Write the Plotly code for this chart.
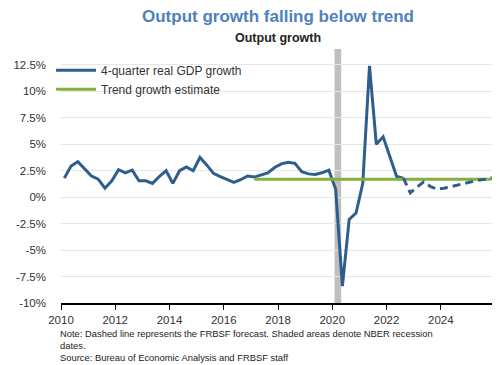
import pandas as pd
import plotly.graph_objects as go

# ---- data ----
actual_quarters = pd.period_range("2010Q1", "2022Q3", freq="Q")
gdp_growth = [
    1.8, 2.95, 3.35, 2.7,
    2.0, 1.7, 0.85, 1.55,
    2.6, 2.3, 2.55, 1.55,
    1.55, 1.3, 1.95, 2.5,
    1.3, 2.5, 2.85, 2.5,
    3.75, 3.05, 2.25, 1.95,
    1.7, 1.4, 1.65, 2.0,
    1.9, 2.1, 2.3, 2.8,
    3.15, 3.3, 3.2, 2.4,
    2.2, 2.15, 2.3, 2.55,
    0.75, -8.4, -2.1, -1.5,
    1.3, 12.4, 5.0, 5.7,
    3.9, 1.95, 1.8,
]
forecast_quarters = pd.period_range("2022Q3", "2025Q4", freq="Q")
forecast_growth = [1.8, 0.4, 0.95, 1.45, 1.0, 0.75, 0.85, 1.0, 1.15, 1.35, 1.5, 1.6, 1.7, 1.85]
trend_quarters = pd.PeriodIndex(["2017Q1", "2025Q4"], freq="Q")
trend_growth = [1.7, 1.7]
recession = ("2020-02-01", "2020-04-30")

y_ticks = [-10, -7.5, -5, -2.5, 0, 2.5, 5, 7.5, 10, 12.5]
y_labels = ["-10%", "-7.5%", "-5%", "-2.5%", "0%", "2.5%", "5%", "7.5%", "10%", "12.5%"]
x_years = [2010, 2012, 2014, 2016, 2018, 2020, 2022, 2024]


def mid_quarter(periods):
    return [p.start_time + (p.end_time - p.start_time) / 2 for p in periods]


BLUE = "#2e5e8c"
GREEN = "#84b03c"
FONT = "Liberation Sans, Arial, sans-serif"

fig = go.Figure()
fig.add_trace(go.Scatter(
    x=mid_quarter(actual_quarters), y=gdp_growth, mode="lines",
    line=dict(color=BLUE, width=3), name="4-quarter real GDP growth"))
fig.add_trace(go.Scatter(
    x=mid_quarter(trend_quarters), y=trend_growth, mode="lines",
    line=dict(color=GREEN, width=3), name="Trend growth estimate"))
fig.add_trace(go.Scatter(
    x=mid_quarter(forecast_quarters), y=forecast_growth, mode="lines",
    line=dict(color=BLUE, width=3, dash="8px,5px"), showlegend=False))

fig.add_shape(type="rect", xref="x", yref="paper", x0=recession[0], x1=recession[1],
              y0=0, y1=1, fillcolor="#bfbfbf", line=dict(width=0), layer="below")

# the page adds an 8px body margin, so the figure is drawn 8px smaller
fig.update_layout(
    width=492, height=357,
    margin=dict(l=53, r=5, t=41, b=62),
    paper_bgcolor="white", plot_bgcolor="white",
    font=dict(family=FONT, size=11.5, color="#333333"),
    title=dict(text="<b>Output growth falling below trend</b>", x=0.5, xref="paper",
               y=1 - 8 / 357, yanchor="middle",
               font=dict(family=FONT, size=17, color="#4f81bd")),
    showlegend=True,
    legend=dict(x=-0.023, y=0.973, xanchor="left", yanchor="top",
                bgcolor="rgba(0,0,0,0)", font=dict(size=12, color="#333333"),
                tracegroupgap=0, itemwidth=40),
    annotations=[
        dict(text="<b>Output growth</b>", xref="paper", yref="paper", x=0.5,
             y=1 + (49 - 38) / 254, yanchor="middle", showarrow=False,
             font=dict(family=FONT, size=12.5, color="#222222")),
        dict(text="Note: Dashed line represents the FRBSF forecast. Shaded areas denote NBER recession<br>"
                  "dates.<br>Source: Bureau of Economic Analysis and FRBSF staff",
             xref="paper", yref="paper", x=-0.008, y=-(326 - 303) / 254,
             xanchor="left", yanchor="top", align="left", showarrow=False,
             font=dict(family=FONT, size=9.4, color="#222222")),
    ],
)
fig.update_xaxes(
    type="date", range=["2010-01-01", "2025-12-31"],
    tickvals=[f"{y}-01-01" for y in x_years], ticktext=[str(y) for y in x_years],
    showgrid=False, showline=True, linecolor="black", linewidth=1.5,
    ticks="outside", ticklen=5, tickcolor="black", tickwidth=1,
)
fig.update_yaxes(
    range=[-10, 14], tickvals=y_ticks, ticktext=y_labels,
    showgrid=True, gridcolor="#e6e6e6", gridwidth=1, zeroline=False,
    ticks="", showline=False, ticklabelstandoff=14,
)

fig.write_html("out.html")
